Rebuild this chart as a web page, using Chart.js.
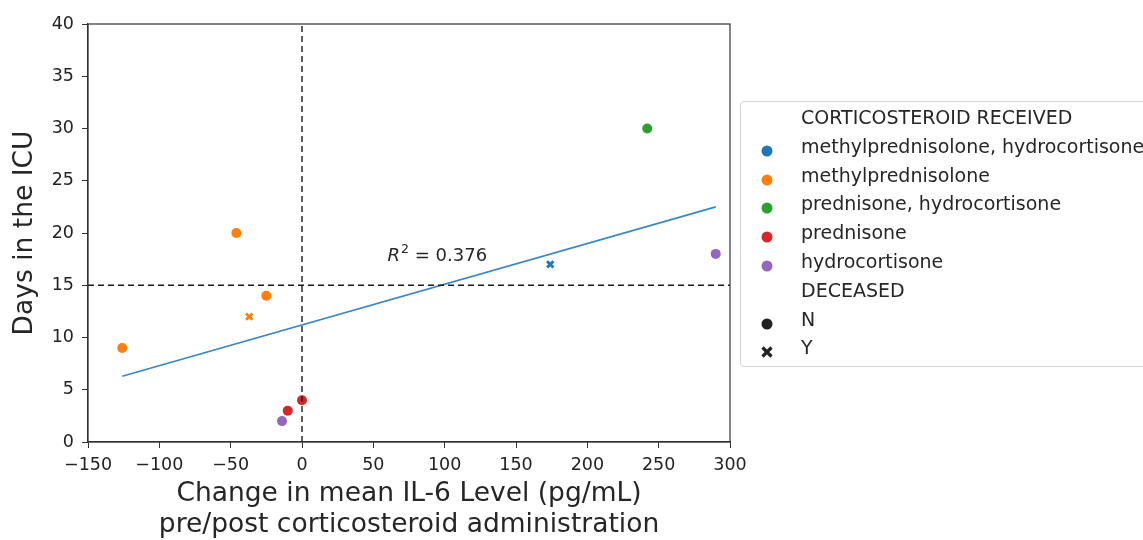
<!DOCTYPE html>
<html lang="en">
<head>
    <meta charset="UTF-8">
    <title>IL-6 change vs ICU days</title>
    <script src="https://cdn.jsdelivr.net/npm/chart.js"></script>
    <style>
        body {
            margin: 0;
            padding: 0;
            background: #fff;
            width: 1143px;
            height: 540px;
            overflow: hidden;
            position: relative;
            font-family: "DejaVu Sans", sans-serif;
        }
        #plot {
            position: absolute;
            left: 0;
            top: 0;
        }
        #legend {
            position: absolute;
            left: 740px;
            top: 101px;
            width: 440px;
            height: 264px;
            border: 1px solid #d4d4d4;
            border-radius: 4px;
            color: #262626;
            font-size: 19px;
        }
        .row {
            position: absolute;
            left: 0;
            height: 28px;
            line-height: 28px;
            white-space: nowrap;
        }
        .row span { position: absolute; left: 60px; }
        .row svg { position: absolute; left: 19px; top: 12px; }
    </style>
</head>
<body>
    <canvas id="plot" width="1143" height="540"></canvas>
    <div id="legend"></div>
    <script>
        // points
        const ilChange = [-126, -46, -25, -37, -14, -10, 0, 174, 242, 290];
        const icuDays  = [9, 20, 14, 12, 2, 3, 4, 17, 30, 18];
        const steroid  = ['methylprednisolone', 'methylprednisolone', 'methylprednisolone', 'methylprednisolone',
                          'hydrocortisone', 'prednisone', 'prednisone',
                          'methylprednisolone, hydrocortisone', 'prednisone, hydrocortisone', 'hydrocortisone'];
        const deceased = ['N', 'N', 'N', 'Y', 'N', 'N', 'N', 'Y', 'N', 'N'];

        const steroidNames  = ['methylprednisolone, hydrocortisone', 'methylprednisolone', 'prednisone, hydrocortisone', 'prednisone', 'hydrocortisone'];
        const steroidColors = ['#1f77b4', '#ff7f0e', '#2ca02c', '#d62728', '#9467bd'];
        const deceasedNames = ['N', 'Y'];

        // regression fit and reference lines
        const fitX = [-126, 290];
        const fitY = [6.3, 22.5];
        const rSquared = 0.376;
        const rLabelX = 60;
        const rLabelY = 17.3;
        const cutX = 0;
        const cutY = 15;

        const xTicks = [-150, -100, -50, 0, 50, 100, 150, 200, 250, 300];
        const yTicks = [0, 5, 10, 15, 20, 25, 30, 35, 40];

        const colorOf = name => steroidColors[steroidNames.indexOf(name)];
        const isDead = deceased.map(d => d === 'Y');

        const scatterData = ilChange.map((x, i) => ({ x: x, y: icuDays[i] }));

        // frame + R^2 label
        const extras = {
            id: 'extras',
            afterDraw(chart) {
                const c = chart.ctx;
                const a = chart.chartArea;
                c.save();
                c.strokeStyle = '#333';
                c.lineWidth = 1.2;
                c.strokeRect(a.left, a.top, a.right - a.left, a.bottom - a.top);

                const px = chart.scales.x.getPixelForValue(rLabelX);
                const py = chart.scales.y.getPixelForValue(rLabelY);
                c.fillStyle = '#262626';
                c.textBaseline = 'alphabetic';
                c.font = 'italic 18px "DejaVu Sans"';
                c.fillText('R', px, py);
                let w = c.measureText('R').width;
                c.font = '12.5px "DejaVu Sans"';
                c.fillText('2', px + w + 1, py - 8);
                w += c.measureText('2').width + 1;
                c.font = '18px "DejaVu Sans"';
                c.fillText(' = ' + rSquared.toFixed(3), px + w, py);
                c.restore();
            }
        };

        const tickFont = { family: 'DejaVu Sans', size: 17.5 };
        const titleFont = { family: 'DejaVu Sans', size: 26.5, lineHeight: 1.15 };
        const minus = v => String(v).replace('-', '\u2212');

        new Chart(document.getElementById('plot'), {
            data: {
                datasets: [
                    {
                        type: 'line',
                        data: [{ x: xTicks[0], y: cutY }, { x: xTicks[xTicks.length - 1], y: cutY }],
                        borderColor: '#1a1a1a',
                        borderWidth: 1.4,
                        borderDash: [6, 4],
                        pointRadius: 0,
                        order: 0
                    },
                    {
                        type: 'line',
                        data: [{ x: cutX, y: yTicks[0] }, { x: cutX, y: yTicks[yTicks.length - 1] }],
                        borderColor: '#1a1a1a',
                        borderWidth: 1.4,
                        borderDash: [6, 4],
                        pointRadius: 0,
                        order: 0
                    },
                    {
                        type: 'line',
                        data: fitX.map((x, i) => ({ x: x, y: fitY[i] })),
                        borderColor: '#3a86c8',
                        borderWidth: 1.6,
                        pointRadius: 0,
                        order: 1
                    },
                    {
                        type: 'scatter',
                        data: scatterData,
                        pointStyle: isDead.map(d => d ? 'crossRot' : 'circle'),
                        pointRadius: isDead.map(d => d ? 4.5 : 5),
                        pointBackgroundColor: steroid.map(colorOf),
                        pointBorderColor: steroid.map(colorOf),
                        pointBorderWidth: isDead.map(d => d ? 2.8 : 0),
                        order: 2
                    }
                ]
            },
            options: {
                responsive: false,
                animation: false,
                devicePixelRatio: 1,
                layout: { padding: { left: 0, right: 413, top: 24, bottom: 0 } },
                plugins: { legend: { display: false }, tooltip: { enabled: false } },
                scales: {
                    x: {
                        type: 'linear',
                        min: xTicks[0],
                        max: xTicks[xTicks.length - 1],
                        afterBuildTicks: s => { s.ticks = xTicks.map(v => ({ value: v })); },
                        afterFit: s => { s.height = 98; },
                        grid: { display: true, drawOnChartArea: false, tickLength: 6, tickColor: '#333' },
                        border: { color: '#333', width: 1.2 },
                        ticks: { font: tickFont, color: '#222', padding: 7, maxRotation: 0, callback: minus },
                        title: {
                            display: true,
                            text: ['Change in mean IL-6 Level (pg/mL)', 'pre/post corticosteroid administration'],
                            font: titleFont,
                            color: '#262626',
                            padding: { top: 0, bottom: 0 }
                        }
                    },
                    y: {
                        type: 'linear',
                        min: yTicks[0],
                        max: yTicks[yTicks.length - 1],
                        afterBuildTicks: s => { s.ticks = yTicks.map(v => ({ value: v })); },
                        afterFit: s => { s.width = 88; },
                        grid: { display: true, drawOnChartArea: false, tickLength: 6, tickColor: '#333' },
                        border: { color: '#333', width: 1.2 },
                        ticks: { font: tickFont, color: '#222', padding: 8, callback: minus },
                        title: {
                            display: true,
                            text: 'Days in the ICU',
                            font: titleFont,
                            color: '#262626',
                            padding: { top: 10, bottom: 0 }
                        }
                    }
                }
            },
            plugins: [extras]
        });

        // legend, drawn as html rows
        const legend = document.getElementById('legend');
        const rows = [];
        rows.push({ label: 'CORTICOSTEROID RECEIVED' });
        steroidNames.forEach((n, i) => rows.push({ label: n, color: steroidColors[i], shape: 'circle' }));
        rows.push({ label: 'DECEASED' });
        deceasedNames.forEach(n => rows.push({ label: n, color: '#222', shape: n === 'Y' ? 'x' : 'circle' }));

        rows.forEach((r, i) => {
            const div = document.createElement('div');
            div.className = 'row';
            div.style.top = (1 + i * 28.8) + 'px';
            let marker = '';
            if (r.shape === 'circle') {
                marker = '<svg width="14" height="14"><circle cx="7" cy="7" r="5.5" fill="' + r.color + '"/></svg>';
            } else if (r.shape === 'x') {
                marker = '<svg width="14" height="14"><path d="M2.5 2.5 L11.5 11.5 M11.5 2.5 L2.5 11.5" stroke="' + r.color + '" stroke-width="3.2"/></svg>';
            }
            div.innerHTML = marker + '<span>' + r.label + '</span>';
            legend.appendChild(div);
        });
    </script>
</body>
</html>
